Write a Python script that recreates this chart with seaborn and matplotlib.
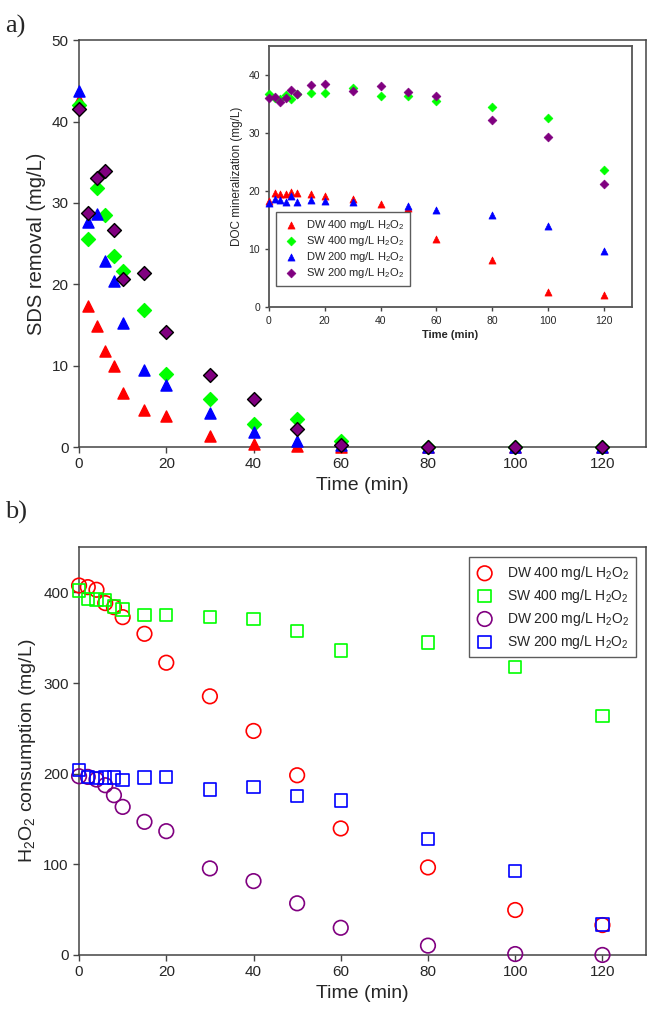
import numpy as np
import pandas as pd
import matplotlib
matplotlib.use("Agg")
import matplotlib.pyplot as plt
import seaborn as sns

# sampling times (min)
time = [0, 2, 4, 6, 8, 10, 15, 20, 30, 40, 50, 60, 80, 100, 120]

labels = ["DW 400 mg/L H$_2$O$_2$", "SW 400 mg/L H$_2$O$_2$",
          "DW 200 mg/L H$_2$O$_2$", "SW 200 mg/L H$_2$O$_2$"]
colors_a = ["#ff0000", "#00ff00", "#0000ff", "#800080"]
colors_b = ["#ff0000", "#00ff00", "#800080", "#0000ff"]

# a) SDS removal (mg/L)
sds_dw400 = [42.6, 17.3, 14.9, 11.8, 9.9, 6.7, 4.5, 3.8, 1.3, 0.4, 0.1, 0, 0, 0, 0]
sds_sw400 = [42.0, 25.6, 31.9, 28.5, 23.5, 21.6, 16.8, 9.0, 5.9, 2.8, 3.5, 0.7, 0, 0, 0]
sds_dw200 = [43.8, 27.7, 28.7, 22.9, 20.4, 15.3, 9.5, 7.6, 4.2, 1.8, 0.8, 0.3, 0, 0, 0]
sds_sw200 = [41.5, 28.8, 33.1, 33.9, 26.7, 20.7, 21.4, 14.1, 8.8, 5.9, 2.2, 0.3, 0, 0, 0]

# inset: DOC mineralization (mg/L)
doc_dw400 = [18.3, 19.6, 19.4, 19.4, 19.8, 19.6, 19.4, 19.2, 18.6, 17.75, 17.05, 11.7, 8.05, 2.6, 2.0]
doc_sw400 = [36.7, 36.0, 35.8, 36.55, 35.8, 36.8, 36.95, 36.95, 37.7, 36.4, 36.3, 35.6, 34.5, 32.5, 23.7]
doc_dw200 = [18.0, 18.7, 18.45, 18.15, 19.1, 18.15, 18.45, 18.3, 18.15, np.nan, 17.45, 16.7, 15.8, 14.0, 9.65]
doc_sw200 = [36.1, 36.2, 35.3, 36.0, 37.4, 36.8, 38.2, 38.4, 37.2, 38.1, 37.0, 36.4, 32.2, 29.3, 21.2]

# b) H2O2 consumption (mg/L)
h2o2_dw400 = [407.7, 405.9, 403.0, 388.3, 383.8, 372.8, 354.4, 322.5, 285.4, 247.2, 198.3, 139.6, 96.6, 49.6, 33.0]
h2o2_sw400 = [402.2, 393.0, 392.3, 392.0, 384.6, 381.3, 375.4, 375.4, 372.8, 371.0, 357.4, 336.0, 344.6, 317.7, 263.7]
h2o2_dw200 = [197.2, 196.5, 193.6, 187.3, 176.3, 163.4, 146.9, 136.6, 95.5, 81.5, 57.0, 30.0, 10.3, 1.0, 0.0]
h2o2_sw200 = [203.9, 196.5, 195.0, 195.8, 195.8, 192.8, 195.8, 196.5, 182.6, 185.5, 175.5, 170.4, 127.8, 92.6, 33.8]

sns.set_style("ticks")
plt.rcParams['font.family'] = ['Liberation Sans', 'DejaVu Sans']
plt.rcParams['mathtext.fontset'] = 'custom'
plt.rcParams['mathtext.rm'] = 'Liberation Sans'
plt.rcParams['mathtext.it'] = 'Liberation Sans:italic'

spine_col = "#444444"


def style_axes(ax, fs):
    for s in ax.spines.values():
        s.set_color(spine_col)
        s.set_linewidth(1.1)
        s.set_visible(True)
    ax.tick_params(axis='both', which='both', direction='out', length=4,
                   width=1, color=spine_col, labelsize=fs, top=False, right=False)


fig = plt.figure(figsize=(6.48, 10.22), dpi=100)
ax1 = fig.add_axes([0.122, 0.5626, 0.875, 0.398])
ax2 = fig.add_axes([0.122, 0.0656, 0.875, 0.399])
axin = fig.add_axes([0.415, 0.6996, 0.560, 0.2554])

# ---- panel a
sds = [sds_dw400, sds_sw400, sds_dw200, sds_sw200]
markers_a = ["^", "D", "^", "D"]
for vals, lab, c, m in zip(sds, labels, colors_a, markers_a):
    edge = "black" if c == "#800080" else c
    sns.scatterplot(x=time, y=vals, ax=ax1, marker=m, color=c, edgecolor=edge,
                    linewidth=1.0, s=64 if m == "^" else 50, clip_on=False,
                    zorder=3, legend=False)
ax1.set_xlim(0, 130)
ax1.set_ylim(0, 50)
ax1.set_xticks(range(0, 121, 20))
ax1.set_yticks(range(0, 51, 10))
ax1.set_xlabel("Time (min)", fontsize=14)
ax1.set_ylabel("SDS removal (mg/L)", fontsize=14.5)
style_axes(ax1, 11)

# ---- inset
doc = [doc_dw400, doc_sw400, doc_dw200, doc_sw200]
for vals, lab, c, m in zip(doc, labels, colors_a, markers_a):
    sns.scatterplot(x=time, y=vals, ax=axin, marker=m, color=c, edgecolor=c,
                    linewidth=0.5, s=26 if m == "^" else 20, clip_on=False,
                    zorder=3, label=lab)
axin.set_xlim(0, 130)
axin.set_ylim(0, 45)
axin.set_xticks(range(0, 121, 20))
axin.set_yticks(range(0, 41, 10))
axin.set_xlabel("Time (min)", fontsize=8, fontweight='bold', labelpad=3)
axin.set_ylabel("DOC mineralization (mg/L)", fontsize=8.5, labelpad=4)
style_axes(axin, 7.5)
axin.tick_params(length=3)
for s in axin.spines.values():
    s.set_color("#555555")
    s.set_linewidth(1.3)
leg = axin.legend(loc="lower left", bbox_to_anchor=(0.005, 0.06), fontsize=8,
                  frameon=True, fancybox=False, edgecolor="#333333",
                  handletextpad=0.6, labelspacing=0.2, borderpad=0.5,
                  handlelength=1.6)
leg.get_frame().set_linewidth(1.0)

# ---- panel b
h2o2 = [h2o2_dw400, h2o2_sw400, h2o2_dw200, h2o2_sw200]
markers_b = ["o", "s", "o", "s"]
for vals, lab, c, m in zip(h2o2, labels, colors_b, markers_b):
    sns.scatterplot(x=time, y=vals, ax=ax2, marker=m, facecolor="none",
                    edgecolor=c, color=c, linewidth=1.2,
                    s=110 if m == "o" else 80, clip_on=False, zorder=3,
                    label=lab)
ax2.set_xlim(0, 130)
ax2.set_ylim(0, 450)
ax2.set_xticks(range(0, 121, 20))
ax2.set_yticks(range(0, 401, 100))
ax2.set_xlabel("Time (min)", fontsize=14)
ax2.set_ylabel("H$_2$O$_2$ consumption (mg/L)", fontsize=14)
style_axes(ax2, 11)
leg2 = ax2.legend(loc="upper right", bbox_to_anchor=(0.995, 0.993), fontsize=10,
                  frameon=True, fancybox=False, edgecolor="#333333",
                  handletextpad=1.0, labelspacing=0.35, borderpad=0.5,
                  handlelength=1.2)
leg2.get_frame().set_linewidth(1.0)

fig.text(0.008, 0.985, "a)", fontsize=19, family=['Liberation Serif', 'DejaVu Serif'],
         va="top", ha="left")
fig.text(0.008, 0.51, "b)", fontsize=19, family=['Liberation Serif', 'DejaVu Serif'],
         va="top", ha="left")

fig.savefig("out.png", dpi=100)
